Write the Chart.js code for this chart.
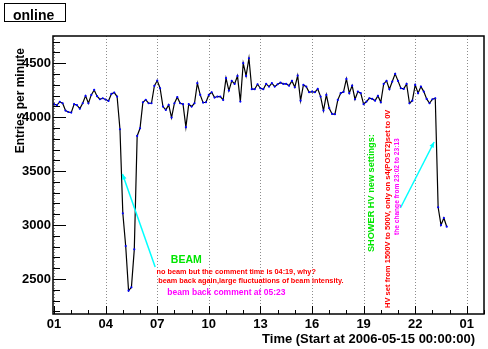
<!DOCTYPE html>
<html>
<head>
<meta charset="utf-8">
<title>online</title>
<script src="https://cdn.jsdelivr.net/npm/chart.js@4.4.0/dist/chart.umd.min.js"></script>
<style>
  body { margin: 0; background: #fff; }
  #wrap { width: 488px; height: 349px; }
</style>
</head>
<body>
<div id="wrap"><canvas id="rate" width="488" height="349"></canvas></div>
<script>
// counts in 10 minute bins, starting at 01:00 on 2006-05-15 (one row per hour)
const firstBinHour = 1;
const binMinutes = 10;
const entries = [
  4120, 4111, 4141, 4129, 4061, 4048,   // 01
  4042, 4120, 4111, 4079, 4129, 4197,   // 02
  4129, 4206, 4252, 4194, 4166, 4175,   // 03
  4163, 4150, 4215, 4228, 4191, 3888,   // 04
  3109, 2806, 2392, 2423, 2775, 3826,   // 05
  3897, 4138, 4160, 4129, 4129, 4290,   // 06
  4339, 4268, 4098, 4067, 4113, 3996,   // 07
  4129, 4185, 4129, 4120, 3907, 4120,   // 08
  4098, 4129, 4315, 4206, 4135, 4138,   // 09
  4206, 4231, 4181, 4191, 4191, 4160,   // 10
  4361, 4246, 4336, 4308, 4382, 4144,   // 11
  4500, 4382, 4546, 4259, 4259, 4305,   // 12
  4268, 4259, 4308, 4283, 4315, 4283,   // 13
  4305, 4320, 4308, 4308, 4292, 4336,   // 14
  4277, 4385, 4153, 4299, 4283, 4231,   // 15
  4237, 4231, 4262, 4191, 4061, 4206,   // 16
  4083, 4030, 4027, 4160, 4222, 4234,   // 17
  4354, 4222, 4292, 4166, 4237, 4222,   // 18
  4120, 4144, 4175, 4169, 4153, 4197,   // 19
  4138, 4308, 4336, 4259, 4330, 4401,   // 20
  4336, 4268, 4262, 4308, 4129, 4153,   // 21
  4299, 4222, 4283, 4237, 4169, 4129,   // 22
  4166, 4175, 3165, 3000, 3065, 2985    // 23
];

// axis: hours since 2006-05-15 00:00
const xMin = 0.94, xMax = 26.0;
const hourTicks = [1, 4, 7, 10, 13, 16, 19, 22, 25];
const hourLabels = ['01', '04', '07', '10', '13', '16', '19', '22', '01'];
const yMin = 2176, yMax = 4752;
const countTicks = [2500, 3000, 3500, 4000, 4500];
const countLabels = ['2500', '3000', '3500', '4000', '4500'];

// shift log comments, placed in (hour, entries) units
const notes = [
  { text: 'BEAM', x: 7.79, y: 2676, color: '#00e600', size: 10.5, rot: false },
  { text: 'no beam but the comment time is 04:19, why?', x: 6.96, y: 2568, color: '#ff0000', size: 7.3, rot: false },
  { text: 'beam back again,large fluctuations of beam intensity.', x: 7.06, y: 2479, color: '#ff0000', size: 7.3, rot: false },
  { text: 'beam back comment at 05:23', x: 7.59, y: 2377, color: '#ff00ff', size: 8.5, rot: false },
  { text: 'SHOWER HV new settings:', x: 19.46, y: 2750, color: '#00e600', size: 9.2, rot: true },
  { text: 'HV set from 1500V to 500V, only on s4(POST2)set to 0V', x: 20.39, y: 2231, color: '#ff0000', size: 7.6, rot: true },
  { text: 'the change from 23:02 to 23:13', x: 20.96, y: 2908, color: '#ff00ff', size: 6.6, rot: true }
];
const arrows = [
  { from: [6.88, 2611], to: [4.98, 3474] },
  { from: [21.14, 3158], to: [23.1, 3770] }
];

const FONT = '"Liberation Sans", Arial, Helvetica, sans-serif';
const points = entries.map((v, i) => ({ x: firstBinHour + i * binMinutes / 60, y: v }));

// ROOT-like frame: inward ticks, dotted time grid, titles and comments
const rootStyle = {
  id: 'rootStyle',
  beforeDatasetsDraw(chart) {
    const { ctx, chartArea: a, scales: { x } } = chart;
    ctx.save();
    ctx.strokeStyle = '#8c8c8c';
    ctx.lineWidth = 1;
    ctx.setLineDash([1, 2]);
    hourTicks.forEach(h => {
      const px = Math.round(x.getPixelForValue(h)) + 0.5;
      ctx.beginPath();
      ctx.moveTo(px, a.top);
      ctx.lineTo(px, a.bottom);
      ctx.stroke();
    });
    ctx.restore();
  },
  afterDraw(chart) {
    const { ctx, chartArea: a, scales: { x, y } } = chart;
    ctx.save();
    ctx.strokeStyle = '#000';
    ctx.lineWidth = 1.5;
    ctx.strokeRect(a.left, a.top, a.right - a.left, a.bottom - a.top);

    ctx.lineWidth = 1;
    ctx.beginPath();
    for (let v = 2200; v <= 4700; v += 100) {
      const py = Math.round(y.getPixelForValue(v)) + 0.5;
      const len = v % 500 === 0 ? 13 : 7;
      ctx.moveTo(a.left, py);
      ctx.lineTo(a.left + len, py);
    }
    for (let h = 1; h <= 26; h++) {
      const px = Math.round(x.getPixelForValue(h)) + 0.5;
      const len = (h - 1) % 3 === 0 ? 8 : 4;
      ctx.moveTo(px, a.bottom);
      ctx.lineTo(px, a.bottom - len);
    }
    ctx.stroke();

    // arrows
    ctx.strokeStyle = '#00ffff';
    ctx.fillStyle = '#00ffff';
    ctx.lineWidth = 1.5;
    arrows.forEach(ar => {
      const x0 = x.getPixelForValue(ar.from[0]), y0 = y.getPixelForValue(ar.from[1]);
      const x1 = x.getPixelForValue(ar.to[0]), y1 = y.getPixelForValue(ar.to[1]);
      const ang = Math.atan2(y1 - y0, x1 - x0);
      ctx.beginPath();
      ctx.moveTo(x0, y0);
      ctx.lineTo(x1, y1);
      ctx.stroke();
      ctx.beginPath();
      ctx.moveTo(x1, y1);
      ctx.lineTo(x1 - 6 * Math.cos(ang - 0.4), y1 - 6 * Math.sin(ang - 0.4));
      ctx.lineTo(x1 - 6 * Math.cos(ang + 0.4), y1 - 6 * Math.sin(ang + 0.4));
      ctx.closePath();
      ctx.fill();
    });

    // comments
    ctx.textBaseline = 'middle';
    ctx.textAlign = 'left';
    notes.forEach(n => {
      ctx.font = `bold ${n.size}px ${FONT}`;
      ctx.fillStyle = n.color;
      const px = x.getPixelForValue(n.x), py = y.getPixelForValue(n.y);
      if (n.rot) {
        ctx.save();
        ctx.translate(px, py);
        ctx.rotate(-Math.PI / 2);
        ctx.fillText(n.text, 0, 0);
        ctx.restore();
      } else {
        ctx.fillText(n.text, px, py);
      }
    });

    // axis titles
    ctx.fillStyle = '#000';
    ctx.strokeStyle = '#000';
    ctx.font = `bold 13px ${FONT}`;
    ctx.textAlign = 'right';
    ctx.fillText('Time (Start at 2006-05-15 00:00:00)', a.right - 9, 339);
    ctx.save();
    ctx.translate(21, a.top + 12);
    ctx.rotate(-Math.PI / 2);
    ctx.font = `bold 12px ${FONT}`;
    ctx.fillText('Entries per minute', 0, 0);
    ctx.restore();

    // histogram name box
    ctx.lineWidth = 1;
    ctx.strokeRect(4.5, 3.5, 61, 18);
    ctx.font = `bold 14px ${FONT}`;
    ctx.textAlign = 'left';
    ctx.textBaseline = 'alphabetic';
    ctx.fillText('online', 13, 20);
    ctx.restore();
  }
};

new Chart(document.getElementById('rate'), {
  type: 'line',
  data: {
    datasets: [{
      data: points,
      borderColor: '#000',
      borderWidth: 1.2,
      pointRadius: 1.1,
      pointBorderWidth: 0,
      pointBackgroundColor: '#0000ff',
      tension: 0,
      fill: false
    }]
  },
  options: {
    responsive: false,
    animation: false,
    devicePixelRatio: 1,
    layout: { padding: { top: 36, right: 1, left: 0, bottom: 0 } },
    plugins: { legend: { display: false }, tooltip: { enabled: false } },
    scales: {
      x: {
        type: 'linear',
        min: xMin,
        max: xMax,
        grid: { display: false, drawTicks: false },
        border: { display: false },
        afterBuildTicks: s => { s.ticks = hourTicks.map(v => ({ value: v })); },
        afterFit: s => { s.height = 35; },
        ticks: {
          autoSkip: false,
          maxRotation: 0,
          padding: 3,
          color: '#000',
          font: { family: FONT, size: 13, weight: 'bold' },
          callback: (v) => hourLabels[hourTicks.indexOf(v)]
        }
      },
      y: {
        min: yMin,
        max: yMax,
        grid: { display: false, drawTicks: false },
        border: { display: false },
        afterBuildTicks: s => { s.ticks = countTicks.map(v => ({ value: v })); },
        afterFit: s => { s.width = 53; },
        ticks: {
          padding: 2,
          color: '#000',
          font: { family: FONT, size: 13, weight: 'bold' },
          callback: (v) => countLabels[countTicks.indexOf(v)]
        }
      }
    }
  },
  plugins: [rootStyle]
});
</script>
</body>
</html>
